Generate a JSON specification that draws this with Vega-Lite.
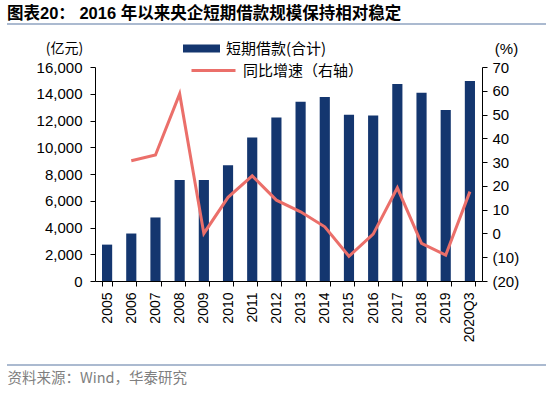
{
  "$schema": "https://vega.github.io/schema/vega-lite/v6.json",
  "width": 387,
  "height": 214,
  "autosize": {"type": "none"},
  "padding": {"left": 95, "top": 67, "right": 68, "bottom": 118},
  "background": "white",
  "title": {
    "text": "图表20：  2016 年以来央企短期借款规模保持相对稳定",
    "anchor": "start",
    "frame": "group",
    "dx": -88,
    "dy": 19,
    "orient": "top",
    "baseline": "bottom",
    "offset": 4,
    "font": "Liberation Sans, Noto Sans CJK SC",
    "fontSize": 16.5,
    "fontWeight": "bold",
    "color": "#000000"
  },
  "data": {
    "values": [
      {"year": "2005", "loan": 2720, "yoy": null},
      {"year": "2006", "loan": 3550, "yoy": 30.6},
      {"year": "2007", "loan": 4750, "yoy": 33.0},
      {"year": "2008", "loan": 7550, "yoy": 58.7},
      {"year": "2009", "loan": 7550, "yoy": 0.0},
      {"year": "2010", "loan": 8650, "yoy": 15.2},
      {"year": "2011", "loan": 10720, "yoy": 24.2},
      {"year": "2012", "loan": 12230, "yoy": 14.0},
      {"year": "2013", "loan": 13400, "yoy": 9.1},
      {"year": "2014", "loan": 13750, "yoy": 2.8},
      {"year": "2015", "loan": 12430, "yoy": -9.6},
      {"year": "2016", "loan": 12380, "yoy": -0.3},
      {"year": "2017", "loan": 14720, "yoy": 19.2},
      {"year": "2018", "loan": 14080, "yoy": -4.2},
      {"year": "2019", "loan": 12780, "yoy": -9.1},
      {"year": "2020Q3", "loan": 14950, "yoy": 17.6}
    ]
  },
  "encoding": {
    "x": {
      "field": "year",
      "type": "nominal",
      "sort": null,
      "scale": {"paddingInner": 0.58, "paddingOuter": 0.29},
      "axis": {
        "title": "资料来源：Wind，华泰研究",
        "titleAnchor": "start",
        "titleX": -88,
        "titleY": 97,
        "titleBaseline": "middle",
        "titleAlign": "left",
        "titleFont": "Noto Sans CJK SC",
        "titleFontSize": 14.5,
        "titleFontWeight": "normal",
        "titleColor": "#7f7f7f",
        "labelAngle": -90,
        "labelAlign": "right",
        "labelBaseline": "middle",
        "labelPadding": 6,
        "labelFont": "Liberation Sans",
        "labelFontSize": 14,
        "labelColor": "#000000",
        "tickBand": "extent",
        "tickSize": 5,
        "tickColor": "#000000",
        "domainColor": "#000000",
        "grid": false
      }
    }
  },
  "layer": [
    {
      "mark": {"type": "bar"},
      "encoding": {
        "y": {
          "field": "loan",
          "type": "quantitative",
          "scale": {"domain": [0, 16000], "nice": false},
          "axis": {
            "values": [0, 2000, 4000, 6000, 8000, 10000, 12000, 14000, 16000],
            "format": ",d",
            "title": "(亿元)",
            "titleAngle": 0,
            "titleX": -31,
            "titleY": -19,
            "titleAlign": "center",
            "titleBaseline": "middle",
            "titleFont": "Noto Sans CJK SC",
            "titleFontSize": 14,
            "titleFontWeight": "normal",
            "titleColor": "#000000",
            "labelFont": "Liberation Sans",
            "labelFontSize": 15,
            "labelColor": "#000000",
            "labelPadding": 8,
            "tickSize": 5,
            "tickColor": "#000000",
            "domainColor": "#000000",
            "grid": false
          }
        },
        "color": {
          "datum": "短期借款(合计)",
          "type": "nominal",
          "scale": {"range": ["#14366F"]},
          "legend": {
            "title": null,
            "orient": "none",
            "legendX": 88,
            "legendY": -37,
            "symbolType": "M-1,-0.22H1V0.22H-1Z",
            "symbolSize": 1369,
            "symbolStrokeWidth": 0,
            "labelFont": "Noto Sans CJK SC",
            "labelFontSize": 15,
            "labelColor": "#000000",
            "labelOffset": 6
          }
        }
      }
    },
    {
      "mark": {"type": "line", "strokeWidth": 3, "color": "#EB6F6A"},
      "encoding": {
        "y": {
          "field": "yoy",
          "type": "quantitative",
          "scale": {"domain": [-20, 70], "nice": false, "zero": false},
          "axis": {
            "orient": "right",
            "values": [-20, -10, 0, 10, 20, 30, 40, 50, 60, 70],
            "labelExpr": "datum.value < 0 ? '(' + abs(datum.value) + ')' : datum.value",
            "title": "(%)",
            "titleAngle": 0,
            "titleX": 24,
            "titleY": -19,
            "titleAlign": "center",
            "titleBaseline": "middle",
            "titleFont": "Liberation Sans",
            "titleFontSize": 15,
            "titleFontWeight": "normal",
            "titleColor": "#000000",
            "labelFont": "Liberation Sans",
            "labelFontSize": 15,
            "labelColor": "#000000",
            "labelPadding": 5,
            "tickSize": 5,
            "tickColor": "#000000",
            "domainColor": "#000000",
            "grid": false
          }
        },
        "stroke": {
          "datum": "同比增速（右轴）",
          "type": "nominal",
          "scale": {"range": ["#EB6F6A"]},
          "legend": {
            "title": null,
            "orient": "none",
            "legendX": 95,
            "legendY": -20,
            "symbolType": "stroke",
            "symbolSize": 1936,
            "symbolStrokeWidth": 3,
            "labelFont": "Noto Sans CJK SC",
            "labelFontSize": 15,
            "labelColor": "#000000",
            "labelOffset": 6
          }
        }
      }
    },
    {
      "data": {"values": [{"pos": "top"}]},
      "mark": {"type": "rule", "color": "#8FA3C0", "strokeWidth": 1.5},
      "encoding": {
        "x": {"value": -88},
        "x2": {"value": 451},
        "y": {"value": -43}
      }
    },
    {
      "data": {"values": [{"pos": "bottom"}]},
      "mark": {"type": "rule", "color": "#8FA3C0", "strokeWidth": 1.5},
      "encoding": {
        "x": {"value": -88},
        "x2": {"value": 451},
        "y": {"value": 298}
      }
    }
  ],
  "resolve": {"scale": {"y": "independent", "color": "independent"}},
  "config": {
    "view": {"stroke": null},
    "font": "Liberation Sans"
  }
}
